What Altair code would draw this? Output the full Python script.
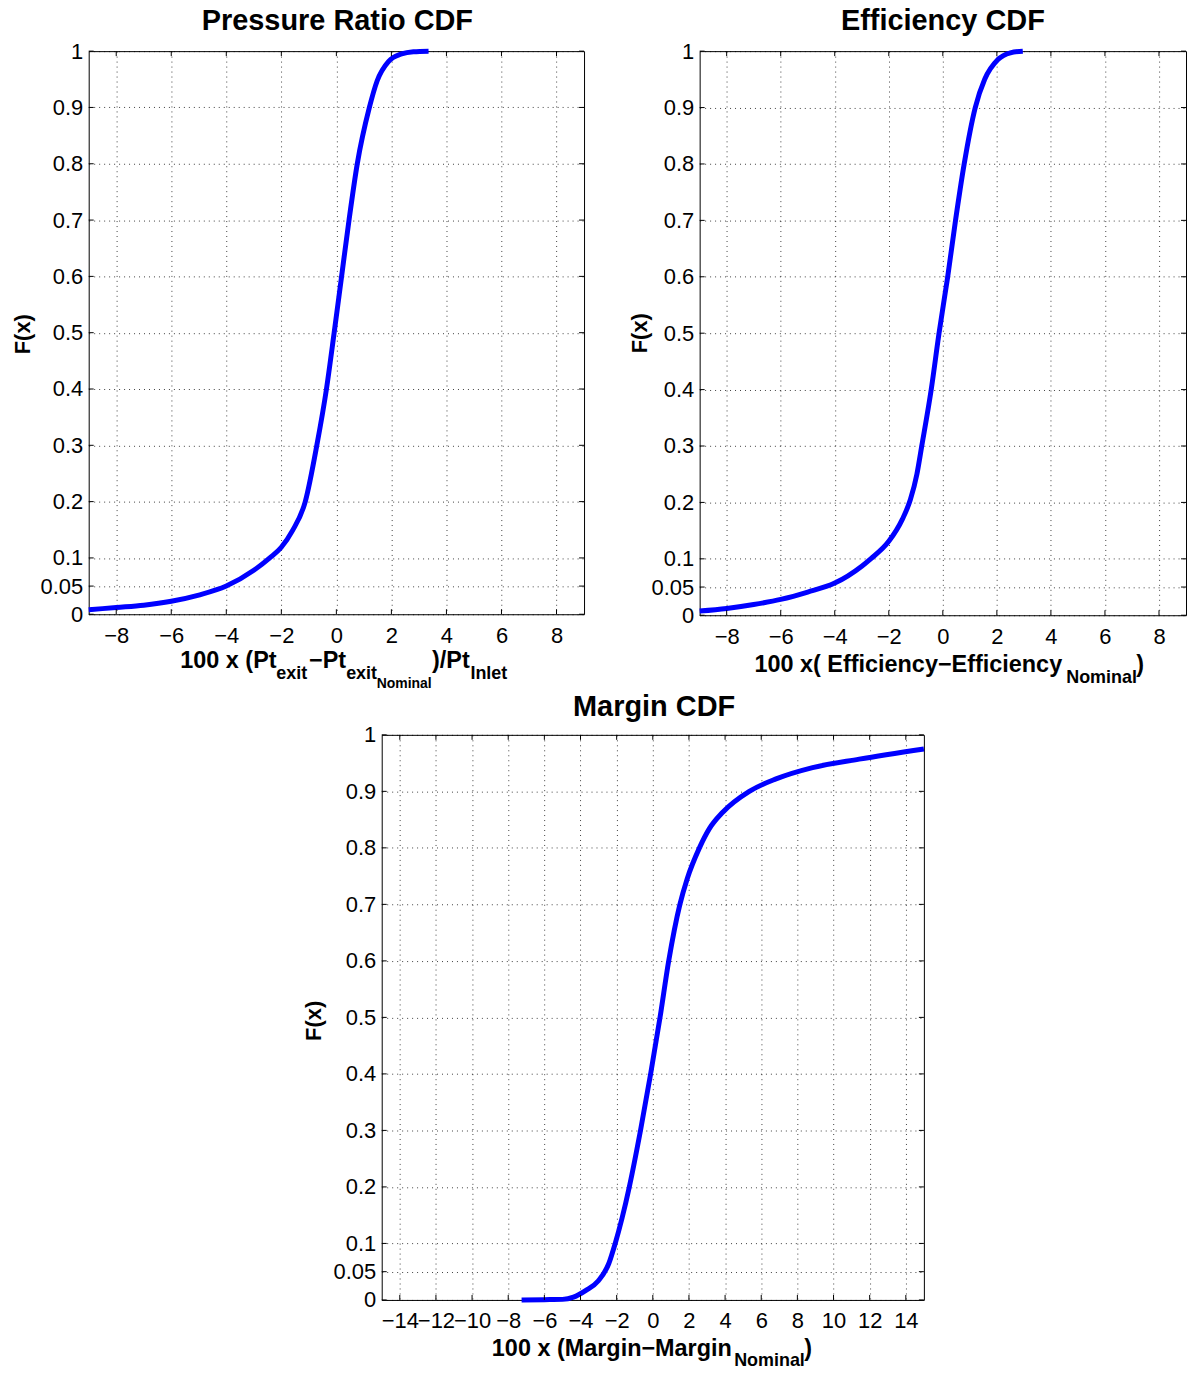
import altair as alt
import pandas as pd

FONT = "Liberation Sans"

# ---------------- data ----------------
pr_x = [-9.0, -8.0, -7.0, -6.0, -5.0, -4.0, -3.0, -2.42, -2.0, -1.6, -1.13, -0.71,
        -0.36, -0.08, 0.19, 0.46, 0.76, 1.2, 1.48, 1.9, 2.37, 2.8, 3.35]
pr_f = [0.008, 0.012, 0.016, 0.023, 0.034, 0.05, 0.078, 0.1, 0.119, 0.148, 0.2, 0.3,
        0.4, 0.5, 0.6, 0.7, 0.8, 0.9, 0.947, 0.982, 0.995, 0.999, 1.0]

eff_x = [-9.0, -8.0, -7.0, -6.0, -5.0, -4.0, -3.0, -2.67, -2.0, -1.5, -1.2,
         -0.96, -0.78, -0.43, -0.14, 0.18, 0.47, 0.79, 1.2, 1.55, 2.04, 2.5, 2.96]
eff_f = [0.0074, 0.012, 0.019, 0.028, 0.041, 0.057, 0.087, 0.1, 0.131, 0.17, 0.205,
         0.25, 0.3, 0.4, 0.5, 0.6, 0.7, 0.8, 0.9, 0.95, 0.985, 0.997, 1.0]

mar_x = [-7.26, -6.0, -5.0, -4.39, -3.7, -3.01, -2.44, -2.08, -1.7, -1.3, -0.68,
         -0.12, 0.4, 0.88, 1.5, 1.9, 2.58, 3.13, 3.87, 5.34, 6.82, 8.84, 11.42, 15.0]
mar_f = [0.0, 0.0005, 0.001, 0.005, 0.017, 0.034, 0.064, 0.1, 0.145, 0.2, 0.3,
         0.4, 0.5, 0.6, 0.7, 0.745, 0.8, 0.834, 0.863, 0.9, 0.922, 0.942, 0.957, 0.975]

x_ticks_small = [-8, -6, -4, -2, 0, 2, 4, 6, 8]
x_ticks_wide = [-14, -12, -10, -8, -6, -4, -2, 0, 2, 4, 6, 8, 10, 12, 14]
y_ticks = [0, 0.05, 0.1, 0.2, 0.3, 0.4, 0.5, 0.6, 0.7, 0.8, 0.9, 1]

titles = ["Pressure Ratio CDF", "Efficiency CDF", "Margin CDF"]
y_label = "F(x)"
pr_xlabel = ["100 x (Pt", "exit", "\u2212Pt", "exit", "Nominal", ")/Pt", "Inlet"]
eff_xlabel = ["100 x( Efficiency\u2212Efficiency", "Nominal", ")"]
mar_xlabel = ["100 x (Margin\u2212Margin", "Nominal", ")"]

ONE = pd.DataFrame({"k": [0]})


def top_of(baseline_y, size):
    # Vega draws 'top' baseline text with its alphabetic baseline 0.79*size lower
    return baseline_y - round(0.79 * size)


def make_panel(xs, fs, domain, xticks, W, H, L, T, R, B,
               title, title_dx, title_base, ylab_dx, ylab_dy, xlab_parts):
    line_df = pd.DataFrame({"x": xs, "F": fs})
    xt_df = pd.DataFrame({"x": xticks})
    yt_df = pd.DataFrame({"F": y_ticks})

    X = alt.X("x:Q",
              scale=alt.Scale(domain=domain, nice=False, zero=False),
              axis=alt.Axis(values=xticks, grid=True, ticks=False, tickSize=0,
                            domain=False, labelFontSize=22, labelPadding=11,
                            labelFlush=False, labelOverlap=False),
              title=None)
    Y = alt.Y("F:Q",
              scale=alt.Scale(domain=[0, 1], nice=False, zero=False),
              axis=alt.Axis(values=y_ticks, grid=True, ticks=False, tickSize=0,
                            domain=False, labelFontSize=22, labelPadding=6,
                            labelFlush=False, labelOverlap=False,
                            labelExpr="'' + datum.value"),
              title=None)

    frame = alt.Chart(ONE).mark_rect(opacity=0).encode(
        x=alt.value(-L), x2=alt.value(W + R), y=alt.value(-T), y2=alt.value(H + B))
    curve = alt.Chart(line_df).mark_line(
        color="#0000ff", strokeWidth=5, interpolate="monotone",
        strokeJoin="round").encode(x=X, y=Y)
    tk = dict(color="black", strokeWidth=1)
    tick_b = alt.Chart(xt_df).mark_rule(**tk).encode(x=X, y=alt.value(H), y2=alt.value(H - 5))
    tick_t = alt.Chart(xt_df).mark_rule(**tk).encode(x=X, y=alt.value(0), y2=alt.value(5))
    tick_l = alt.Chart(yt_df).mark_rule(**tk).encode(y=Y, x=alt.value(0), x2=alt.value(5))
    tick_r = alt.Chart(yt_df).mark_rule(**tk).encode(y=Y, x=alt.value(W - 5), x2=alt.value(W))

    ttl = alt.Chart(ONE).mark_text(
        text=title, font=FONT, fontSize=29, fontWeight="bold", color="black",
        align="center", baseline="top").encode(
        x=alt.value(W / 2 + title_dx), y=alt.value(top_of(title_base, 29)))
    ylab = alt.Chart(ONE).mark_text(
        text=y_label, font=FONT, fontSize=22, fontWeight="bold", color="black",
        align="center", baseline="middle", angle=270).encode(
        x=alt.value(ylab_dx), y=alt.value(ylab_dy))

    xl_layers = []
    for txt, dx, base, size in xlab_parts:
        xl_layers.append(alt.Chart(ONE).mark_text(
            text=txt, font=FONT, fontSize=size, fontWeight="bold", color="black",
            align="left", baseline="top").encode(
            x=alt.value(dx), y=alt.value(top_of(base, size))))

    return alt.layer(frame, curve, tick_b, tick_t, tick_l, tick_r, ttl, ylab,
                     *xl_layers).properties(width=W, height=H)


# top row: both panels share the same top extent and bottom extent
p1 = make_panel(
    pr_x, pr_f, [-9, 9], x_ticks_small, 497, 565, 88, 48, 15, 76,
    titles[0], 1, -21, -65.5, 284,
    [(pr_xlabel[0], 91.9, 619, 23.5), (pr_xlabel[1], 188.3, 630, 18),
     (pr_xlabel[2], 221, 619, 23.5), (pr_xlabel[3], 258.3, 630, 18),
     (pr_xlabel[4], 289, 639, 14), (pr_xlabel[5], 344.5, 619, 23.5),
     (pr_xlabel[6], 383, 630, 18)])

p2 = make_panel(
    eff_x, eff_f, [-9, 9], x_ticks_small, 488, 566, 99, 48, 1, 75,
    titles[1], 0, -21, -60, 283,
    [(eff_xlabel[0], 55, 623, 23.5), (eff_xlabel[1], 367.8, 634, 18),
     (eff_xlabel[2], 438, 623, 23.5)])

# bottom row: an invisible 1px spacer, then the margin panel
spacer = alt.Chart(ONE).mark_rect(opacity=0).encode(
    x=alt.value(0), x2=alt.value(1), y=alt.value(0), y2=alt.value(1)
).properties(width=1, height=1, view=alt.ViewBackground(stroke="transparent"))

p3 = make_panel(
    mar_x, mar_f, [-15, 15], x_ticks_wide, 544, 567, 291, 38, 0, 70,
    titles[2], 1.3, -19, -68, 287,
    [(mar_xlabel[0], 110.5, 623.3, 23.5), (mar_xlabel[1], 353.6, 633.3, 18),
     (mar_xlabel[2], 424, 623.3, 23.5)])

chart = alt.vconcat(
    alt.hconcat(p1, p2, spacing=0),
    alt.hconcat(spacer, p3, spacing=0),
    spacing=0,
    padding=0,
    background="white",
).configure_view(
    stroke="black", strokeWidth=1
).configure_axis(
    labelFont=FONT, labelColor="black",
    gridColor="#000000", gridOpacity=0.75, gridDash=[1, 4], gridWidth=1,
)

chart.save("out.html", embed_options={"renderer": "svg", "actions": False})
